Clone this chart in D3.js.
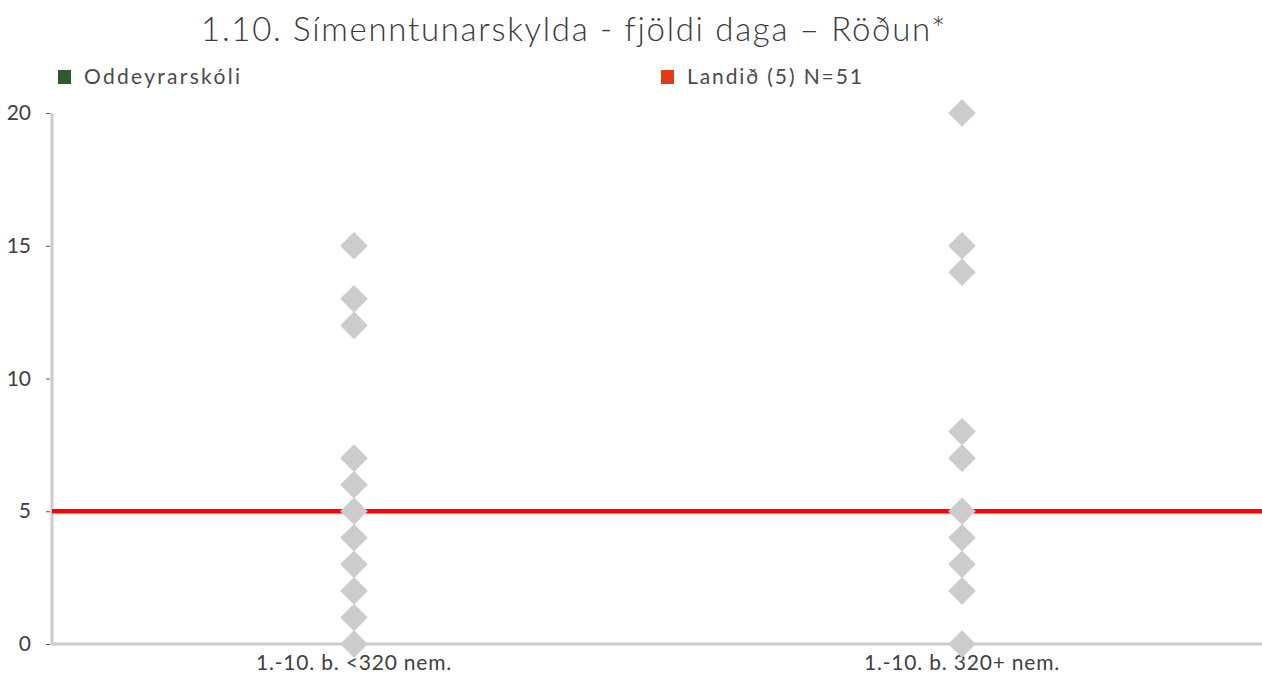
<!DOCTYPE html>
<html>
<head>
<meta charset="utf-8">
<script src="https://cdn.jsdelivr.net/npm/d3@7"></script>
<style>
  body { margin: 0; background: #fff; }
  svg { display: block; font-family: Lato, "Open Sans", sans-serif; }
</style>
</head>
<body>
<div id="chart"></div>
<script>
const categories = ["1.-10. b. <320 nem.", "1.-10. b. 320+ nem."]
const smallSchools = [15, 13, 12, 7, 6, 5, 4, 3, 2, 1, 0]
const largeSchools = [20, 15, 14, 8, 7, 5, 4, 3, 2, 0]
const countryValue = 5
const yTicks = [0, 5, 10, 15, 20]
const legendLabels = ["Oddeyrarskóli", "Landið (5) N=51"]

const width = 1262
const height = 675
const plotLeft = 52, plotRight = 1262, plotTop = 113, plotBottom = 644

const svg = d3.select("#chart").append("svg")
  .attr("width", width)
  .attr("height", height)

const x = d3.scaleBand().domain(categories).range([50, 1266])
const y = d3.scaleLinear().domain([0, 20]).range([plotBottom, plotTop])

svg.append("text")
  .attr("x", 574)
  .attr("y", 41)
  .attr("text-anchor", "middle")
  .style("font-size", "33px")
  .style("font-weight", "300")
  .style("letter-spacing", "1.7px")
  .style("fill", "#3a3a3a")
  .text("1.10. Símenntunarskylda - fjöldi daga – Röðun*")

// legend
const legend = svg.selectAll(".legend")
  .data(legendLabels)
  .enter().append("g")
  .attr("transform", (d, i) => `translate(${i ? 661 : 58},70)`)
legend.append("rect")
  .attr("width", 13).attr("height", 14)
  .style("fill", (d, i) => i ? "#e03a16" : "#2e5a30")
legend.append("text")
  .attr("x", 26).attr("y", 14)
  .style("font-size", "21px")
  .style("letter-spacing", (d, i) => i ? "1.9px" : "2.3px")
  .style("fill", "#4a4a4a")
  .text(d => d)

// y axis
const yAxis = svg.append("g")
  .attr("transform", `translate(${plotLeft},0)`)
  .call(d3.axisLeft(y).tickValues(yTicks).tickSize(4).tickPadding(17))
yAxis.attr("font-family", null).attr("font-size", null)
yAxis.select(".domain").remove()
yAxis.selectAll(".tick line").attr("stroke", "#555").attr("transform", "translate(-2,0)")
yAxis.selectAll(".tick text").style("font-size", "21px").style("fill", "#404040")

svg.append("line")
  .attr("x1", plotLeft).attr("x2", plotLeft)
  .attr("y1", plotTop).attr("y2", plotBottom)
  .attr("stroke", "#cccccc").attr("stroke-width", 3)
svg.append("line")
  .attr("x1", plotLeft - 1.5).attr("x2", plotRight)
  .attr("y1", plotBottom).attr("y2", plotBottom)
  .attr("stroke", "#cccccc").attr("stroke-width", 3)

// x labels
const xAxis = svg.append("g")
  .attr("transform", `translate(0,${plotBottom})`)
  .call(d3.axisBottom(x).tickSize(0).tickPadding(11))
xAxis.attr("font-family", null).attr("font-size", null)
xAxis.select(".domain").remove()
xAxis.selectAll(".tick text").style("font-size", "21px").style("letter-spacing", "0.8px").style("fill", "#404040")

// country line
svg.append("line")
  .attr("x1", plotLeft).attr("x2", plotRight)
  .attr("y1", y(countryValue)).attr("y2", y(countryValue))
  .attr("stroke", "#ff0000").attr("stroke-width", 4.5)

// diamonds
const points = [
  ...smallSchools.map(v => ({cat: categories[0], v})),
  ...largeSchools.map(v => ({cat: categories[1], v}))
]
const diamond = d3.symbol().type(d3.symbolSquare).size(380)
svg.selectAll(".pt")
  .data(points)
  .enter().append("path")
  .attr("d", diamond)
  .attr("transform", d => `translate(${x(d.cat) + x.bandwidth() / 2},${y(d.v)}) rotate(45)`)
  .style("fill", "#cccccc")
</script>
</body>
</html>
